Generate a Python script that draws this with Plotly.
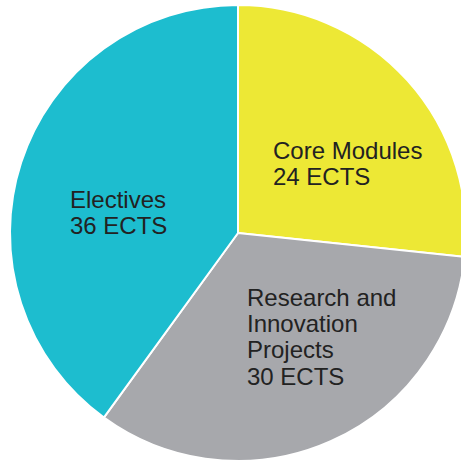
import plotly.graph_objects as go

# ECTS split of the programme
labels = ["Core Modules", "Research and Innovation Projects", "Electives"]
values = [24, 30, 36]
label_lines = [["Core Modules"], ["Research and", "Innovation", "Projects"], ["Electives"]]
colors = ["#EDE835", "#A7A8AC", "#1DBDCF"]

W, H = 466, 462
L, T, B = 10, 5, 1
side = H - T - B

def px_x(x):
    return (x - L) / side

def px_y(y):
    return 1 - (y - T) / side

# label block: left edge and middle of first line (pixels), line step
label_pos = [(270.5, 150.5), (244.5, 297.5), (68, 199.3)]
line_step = 26.2

fig = go.Figure(go.Pie(
    labels=labels,
    values=values,
    sort=False,
    direction="clockwise",
    rotation=0,
    marker=dict(colors=colors, line=dict(color="white", width=2)),
    textinfo="none",
    hoverinfo="label+value",
    showlegend=False,
))

for lines, val, (x0, y0) in zip(label_lines, values, label_pos):
    for i, line in enumerate(lines + [f"{val} ECTS"]):
        fig.add_annotation(text=line, x=px_x(x0), y=px_y(y0 + i * line_step),
                           xref="paper", yref="paper",
                           xanchor="left", yanchor="middle", align="left",
                           showarrow=False,
                           font=dict(family="Liberation Sans, Arial", size=24, color="#222222"))

fig.update_layout(
    width=W, height=H,
    margin=dict(l=L, r=0, t=T, b=B),
    paper_bgcolor="white",
    plot_bgcolor="white",
)

fig.write_html("out.html", config={"displayModeBar": False},
               post_script="document.body.style.margin='0';document.body.style.overflow='hidden';")
